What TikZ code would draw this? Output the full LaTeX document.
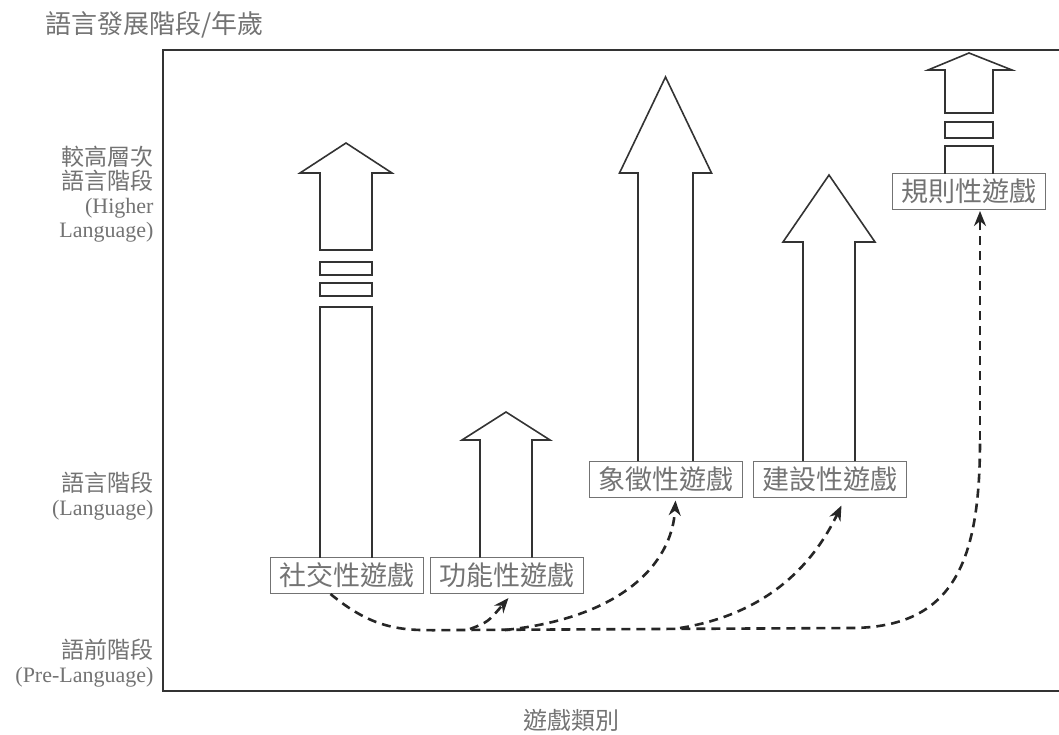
\documentclass[tikz,border=0pt]{standalone}
\usepackage{fontspec}
\setmainfont{Liberation Serif}
\newfontfamily\cjk{Noto Sans CJK TC}
\usetikzlibrary{arrows.meta}
\tikzset {>=Stealth}
\definecolor{labgray}{gray}{0.45}
\definecolor{linegray}{gray}{0.2}
\tikzset{
  playbox/.style={draw=labgray, line width=1pt, text=labgray, font=\cjk\fontsize{27}{27}\selectfont, minimum width=153pt, minimum height=36pt, inner sep=1pt},
  arrline/.style={draw=linegray, line width=1.6pt},
  pathline/.style={draw=black!85, line width=2.6pt, dash pattern=on 9pt off 6pt, -{Stealth[length=15pt,width=12pt]}},
  pathpart/.style={draw=black!85, line width=2.6pt, dash pattern=on 9pt off 6pt},
  axislab/.style={text=labgray, align=right, anchor=east, font=\fontsize{22}{24}\selectfont},
  cjklab/.style={text=labgray, font=\cjk\fontsize{24}{24}\selectfont}
}
\newcommand*{\uparr}[6]{\draw[arrline] (#1,#3) -- (#1,#4) -- (#1-#6,#4) -- ({(#1+#2)/2},#5) -- (#2+#6,#4) -- (#2,#4) -- (#2,#3);}
\newcommand*{\gapbar}[4]{\draw[arrline] (#1,#3) rectangle (#2,#4);}
\newcommand*{\ylab}[1]{{\cjk\fontsize{23}{24}\selectfont #1}}

\begin{document}
\begin{tikzpicture}[x=1pt,y=-1pt]
\useasboundingbox (0,0) rectangle (1059,734);
\draw[draw=linegray,line width=2pt] (1059,50) -- (163,50) -- (163,691) -- (1059,691);
\node[cjklab,font=\cjk\fontsize{26}{26}\selectfont,anchor=west] (title) at (42,25) {語言發展階段/年歲};
\node[cjklab] (xlab) at (571,720) {遊戲類別};
\node[axislab] (high) at (157,194) {\ylab{較高層次}\\\ylab{語言階段}\\(Higher\\Language)};
\node[axislab] (lang) at (157,496) {\ylab{語言階段}\\(Language)};
\node[axislab] (pre) at (157,663) {\ylab{語前階段}\\(Pre-Language)};
\node[playbox] (soc) at (346.5,575.5) {社交性遊戲};
\node[playbox] (fun) at (506.5,575.5) {功能性遊戲};
\node[playbox] (sym) at (665.5,479) {象徵性遊戲};
\node[playbox] (con) at (829.5,479) {建設性遊戲};
\node[playbox] (rul) at (969,191.5) {規則性遊戲};
\uparr{480}{532}{557.5}{440}{412}{18}
\uparr{638}{693}{461}{173}{77}{18.5}
\uparr{803}{855}{461}{242}{175}{20}
\draw[arrline] (320,557.5) -- (320,307) -- (372,307) -- (372,557.5);
\gapbar{320}{372}{283}{296}
\gapbar{320}{372}{262}{275}
\draw[arrline] (320,250) -- (320,173) -- (300,173) -- (346,143) -- (392,173) -- (372,173) -- (372,250) -- cycle;
\draw[arrline] (945,173.5) -- (945,146) -- (993,146) -- (993,173.5);
\gapbar{945}{993}{122}{138}
\draw[arrline] (945,113) -- (945,70) -- (928,70) -- (969,53) -- (1012,70) -- (993,70) -- (993,113) -- cycle;
\coordinate (bend) at (850,628);
\coordinate (up) at (980,440);
\coordinate (rulin) at (980,211);
\coordinate (funout) at (470,629);
\coordinate (symout) at (505,630);
\coordinate (conout) at (680,628);
\draw[pathpart] ([xshift=-16pt]soc.south) .. controls (380,635) and (410,630) .. (460,630) -- (bend) .. controls (955,628) and (980,560) .. (up);
\draw[pathline] (up) -- (rulin);
\draw[pathline] (funout) .. controls (488,622) .. ([xshift=2pt,yshift=-4pt]fun.south);
\draw[pathline] (symout) .. controls (620,618) and (672,565) .. ([xshift=10pt,yshift=-3pt]sym.south);
\draw[pathline] (conout) .. controls (780,612) and (820,550) .. ([xshift=12pt,yshift=-8pt]con.south);
\end{tikzpicture}
\end{document}
